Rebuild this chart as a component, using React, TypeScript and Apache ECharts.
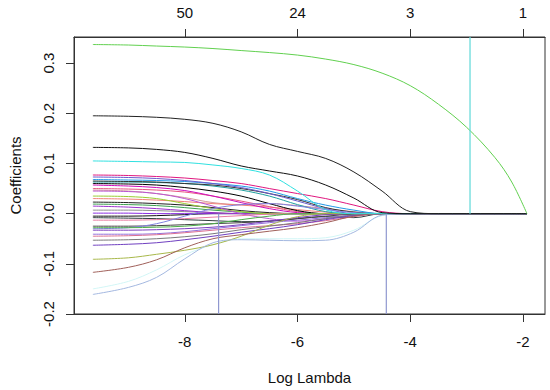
import React, { useEffect, useRef } from "react";
import * as echarts from "echarts";

// Log(lambda) grid at which the coefficient paths were read
const LOG_LAMBDA = [-9.63, -9, -8.5, -8, -7.5, -7, -6.5, -6, -5.5, -5, -4.5, -4, -3.5, -3, -2.5, -2.2, -1.93];

// Bottom / top axis ticks
const X_TICKS = [-8, -6, -4, -2];
const TOP_LABELS = ["50", "24", "3", "1"];
const Y_TICKS = [-0.2, -0.1, 0, 0.1, 0.2, 0.3];

// Coefficient paths (one array per variable)
const pathGreen = [0.337, 0.336, 0.334, 0.332, 0.329, 0.325, 0.321, 0.316, 0.308, 0.297, 0.28, 0.255, 0.218, 0.172, 0.112, 0.063, 0];
const pathBlack1 = [0.195, 0.194, 0.192, 0.188, 0.18, 0.163, 0.138, 0.124, 0.11, 0.083, 0.045, 0.004, 0, 0, 0, 0, 0];
const pathBlack2 = [0.132, 0.131, 0.128, 0.122, 0.11, 0.095, 0.085, 0.075, 0.057, 0.031, 0.002, 0, 0, 0, 0, 0, 0];
const pathCyan = [0.105, 0.104, 0.103, 0.102, 0.097, 0.09, 0.077, 0.045, 0.008, 0, 0, 0, 0, 0, 0, 0, 0];
const pathLightBlue = [-0.161, -0.147, -0.127, -0.09, -0.058, -0.052, -0.053, -0.054, -0.053, -0.037, -0.003, 0, 0, 0, 0, 0, 0];
const pathBrown = [-0.117, -0.107, -0.092, -0.068, -0.05, -0.042, -0.035, -0.028, -0.018, -0.005, 0, 0, 0, 0, 0, 0, 0];
const pathOlive = [-0.091, -0.088, -0.081, -0.073, -0.062, -0.045, -0.023, -0.006, 0, 0, 0, 0, 0, 0, 0, 0, 0];
const pathDeepPink = [0.077, 0.076, 0.074, 0.071, 0.066, 0.06, 0.05, 0.04, 0.03, 0.017, 0.004, 0, 0, 0, 0, 0, 0];
const pathSlateBlue = [0.073, 0.072, 0.07, 0.066, 0.06, 0.052, 0.04, 0.025, 0.01, 0, 0, 0, 0, 0, 0, 0, 0];
const pathBlue = [0.068, 0.067, 0.066, 0.064, 0.06, 0.055, 0.045, 0.03, 0.017, 0.007, 0, 0, 0, 0, 0, 0, 0];
const pathBlack3 = [0.065, 0.064, 0.063, 0.06, 0.057, 0.05, 0.04, 0.028, 0.012, 0.003, 0, 0, 0, 0, 0, 0, 0];
const pathTeal = [0.063, 0.063, 0.062, 0.06, 0.055, 0.047, 0.035, 0.018, 0.004, 0, 0, 0, 0, 0, 0, 0, 0];
const pathBlack4 = [0.06, 0.059, 0.057, 0.052, 0.045, 0.035, 0.02, 0.006, 0, 0, 0, 0, 0, 0, 0, 0, 0];
const pathMagenta = [0.057, 0.055, 0.052, 0.046, 0.035, 0.022, 0.01, 0.002, 0, 0, 0, 0, 0, 0, 0, 0, 0];
const pathPink = [0.05, 0.049, 0.047, 0.043, 0.035, 0.025, 0.014, 0.004, 0, 0, 0, 0, 0, 0, 0, 0, 0];
const pathRosy = [0.047, 0.045, 0.04, 0.032, 0.022, 0.018, 0.02, 0.016, 0.01, 0.004, 0, 0, 0, 0, 0, 0, 0];
const pathOrchid = [0.045, 0.044, 0.04, 0.03, 0.015, 0.0, -0.01, -0.015, -0.01, -0.003, 0, 0, 0, 0, 0, 0, 0];
const pathYellowGreen = [0.035, 0.034, 0.03, 0.02, 0.01, 0.004, 0, 0, 0, 0, 0, 0, 0, 0, 0, 0, 0];
const pathSalmon = [0.03, 0.029, 0.027, 0.024, 0.02, 0.017, 0.013, 0.008, 0.003, 0, 0, 0, 0, 0, 0, 0, 0];
const pathBlack5 = [0.023, 0.022, 0.02, 0.017, 0.012, 0.006, 0.002, 0, 0, 0, 0, 0, 0, 0, 0, 0, 0];
const pathGreen2 = [0.019, 0.018, 0.016, 0.012, 0.007, 0.003, 0, 0, 0, 0, 0, 0, 0, 0, 0, 0, 0];
const pathPurple1 = [0.015, 0.013, 0.01, 0.006, 0.002, 0, 0, 0, 0, 0, 0, 0, 0, 0, 0, 0, 0];
const pathGray1 = [0.007, 0.007, 0.006, 0.004, 0.002, 0, 0, 0, 0, 0, 0, 0, 0, 0, 0, 0, 0];
const pathPurple2 = [0.001, 0.001, 0, 0, 0, 0, 0, 0, 0, 0, 0, 0, 0, 0, 0, 0, 0];
const pathBlack6 = [-0.005, -0.005, -0.004, -0.002, 0, 0, 0, 0, 0, 0, 0, 0, 0, 0, 0, 0, 0];
const pathSlate = [-0.008, -0.009, -0.01, -0.012, -0.014, -0.016, -0.015, -0.01, -0.006, -0.008, 0, 0, 0, 0, 0, 0, 0];
const pathPink2 = [-0.013, -0.013, -0.012, -0.01, -0.007, -0.004, -0.001, 0, 0, 0, 0, 0, 0, 0, 0, 0, 0];
const pathDarkGray = [-0.025, -0.025, -0.024, -0.022, -0.02, -0.018, -0.015, -0.01, -0.005, -0.001, 0, 0, 0, 0, 0, 0, 0];
const pathMedPurple = [-0.03, -0.028, -0.02, -0.005, 0.01, 0.018, 0.02, 0.015, 0.008, 0.002, 0, 0, 0, 0, 0, 0, 0];
const pathGreen3 = [-0.028, -0.028, -0.027, -0.025, -0.02, -0.012, -0.005, 0, 0, 0, 0, 0, 0, 0, 0, 0, 0];
const pathPurple3 = [-0.033, -0.033, -0.032, -0.03, -0.027, -0.022, -0.015, -0.008, -0.002, 0, 0, 0, 0, 0, 0, 0, 0];
const pathViolet = [-0.041, -0.041, -0.04, -0.036, -0.03, -0.024, -0.018, -0.013, -0.008, -0.003, 0, 0, 0, 0, 0, 0, 0];
const pathPaleViolet = [-0.045, -0.044, -0.042, -0.038, -0.033, -0.028, -0.024, -0.02, -0.014, -0.006, 0, 0, 0, 0, 0, 0, 0];
const pathGray2 = [-0.053, -0.052, -0.05, -0.046, -0.04, -0.032, -0.025, -0.018, -0.01, -0.003, 0, 0, 0, 0, 0, 0, 0];
const pathPurple4 = [-0.063, -0.061, -0.058, -0.052, -0.045, -0.037, -0.03, -0.022, -0.012, -0.004, 0, 0, 0, 0, 0, 0, 0];
const pathLightCyan = [-0.15, -0.135, -0.112, -0.082, -0.062, -0.05, -0.05, -0.05, -0.048, -0.033, -0.004, 0, 0, 0, 0, 0, 0];

const PATHS: { values: number[]; color: string }[] = [
  { values: pathLightCyan, color: "#D2F6F6" },
  { values: pathSlate, color: "#2F3F3F" },
  { values: pathRosy, color: "#D49A9A" },
  { values: pathBlack6, color: "#111111" },
  { values: pathPurple2, color: "#8A2BE2" },
  { values: pathGray1, color: "#909090" },
  { values: pathPurple1, color: "#9932CC" },
  { values: pathGreen2, color: "#3CA050" },
  { values: pathBlack5, color: "#222222" },
  { values: pathSalmon, color: "#F08078" },
  { values: pathYellowGreen, color: "#9ACD32" },
  { values: pathOrchid, color: "#BA55D3" },
  { values: pathPink, color: "#E75480" },
  { values: pathMagenta, color: "#CD0BBC" },
  { values: pathBlack4, color: "#000000" },
  { values: pathTeal, color: "#20A0A0" },
  { values: pathBlack3, color: "#333333" },
  { values: pathBlue, color: "#2297E6" },
  { values: pathSlateBlue, color: "#6A5ACD" },
  { values: pathDeepPink, color: "#E0177F" },
  { values: pathPink2, color: "#E87AA0" },
  { values: pathDarkGray, color: "#444444" },
  { values: pathMedPurple, color: "#8080E0" },
  { values: pathGreen3, color: "#4DAF4A" },
  { values: pathPurple3, color: "#7B3FBF" },
  { values: pathViolet, color: "#9370DB" },
  { values: pathPaleViolet, color: "#DB7093" },
  { values: pathGray2, color: "#7A7A7A" },
  { values: pathPurple4, color: "#7040C0" },
  { values: pathOlive, color: "#A8B84A" },
  { values: pathBrown, color: "#A0605A" },
  { values: pathLightBlue, color: "#A4B8E0" },
  { values: pathCyan, color: "#30E0E0" },
  { values: pathBlack2, color: "#111111" },
  { values: pathBlack1, color: "#222222" },
  { values: pathGreen, color: "#61D04F" },
];

// Vertical reference lines: [log lambda, from, to]
const VLINES: { x: number; y0: number; y1: number; color: string }[] = [
  { x: -7.4, y0: -0.2, y1: 0, color: "#9098D0" },
  { x: -4.425, y0: -0.2, y1: 0, color: "#9098D0" },
  { x: -2.94, y0: 0, y1: 0.352, color: "#5ED8D8" },
];

const X_MIN = -9.965;
const X_MAX = -1.61;
const Y_MIN = -0.2;
const Y_MAX = 0.352;

const FONT = "'Liberation Sans', Arial, Helvetica, sans-serif";

export default function App() {
  const ref = useRef<HTMLDivElement>(null);
  useEffect(() => {
    if (!ref.current) return;
    const chart = echarts.init(ref.current, null, { renderer: "svg" });
    const lineSeries = PATHS.map((p) => ({
      type: "line",
      data: LOG_LAMBDA.map((x, i) => [x, p.values[i]]),
      showSymbol: false,
      smooth: 0.35,
      lineStyle: { color: p.color, width: 1 },
      silent: true,
    }));
    const vSeries = VLINES.map((v) => ({
      type: "line",
      data: [
        [v.x, v.y0],
        [v.x, v.y1],
      ],
      showSymbol: false,
      lineStyle: { color: v.color, width: 1.2 },
      silent: true,
    }));
    chart.setOption({
      animation: false,
      backgroundColor: "#ffffff",
      textStyle: { fontFamily: FONT },
      grid: {
        left: 73,
        right: 5,
        top: 37,
        bottom: 76,
        show: true,
        borderColor: "#333333",
        borderWidth: 1,
        backgroundColor: "transparent",
      },
      xAxis: [
        {
          type: "value",
          min: X_MIN,
          max: X_MAX,
          position: "bottom",
          name: "Log Lambda",
          nameLocation: "middle",
          nameGap: 56,
          nameTextStyle: { color: "#111", fontSize: 15, fontFamily: FONT },
          axisLine: { show: true, onZero: false, lineStyle: { color: "#333" } },
          axisTick: { show: true, inside: false, length: 8, customValues: X_TICKS, lineStyle: { color: "#333" } },
          axisLabel: {
            customValues: X_TICKS,
            margin: 20,
            color: "#111",
            fontSize: 15,
            fontFamily: FONT,
            formatter: (v: number) => String(v),
          },
          splitLine: { show: false },
        },
        {
          type: "value",
          min: X_MIN,
          max: X_MAX,
          position: "top",
          axisLine: { show: true, onZero: false, lineStyle: { color: "#333" } },
          axisTick: { show: true, inside: false, length: 8, customValues: X_TICKS, lineStyle: { color: "#333" } },
          axisLabel: {
            customValues: X_TICKS,
            margin: 17,
            color: "#111",
            fontSize: 15,
            fontFamily: FONT,
            formatter: (v: number) => {
              const i = X_TICKS.findIndex((t) => Math.abs(t - v) < 1e-6);
              return i >= 0 ? TOP_LABELS[i] : "";
            },
          },
          splitLine: { show: false },
        },
      ],
      yAxis: {
        type: "value",
        min: Y_MIN,
        max: Y_MAX,
        name: "Coefficients",
        nameLocation: "middle",
        nameGap: 51,
        nameTextStyle: { color: "#111", fontSize: 15, fontFamily: FONT },
        axisLine: { show: true, onZero: false, lineStyle: { color: "#333" } },
        axisTick: { show: true, inside: false, length: 8, customValues: Y_TICKS, lineStyle: { color: "#333" } },
        axisLabel: {
          customValues: Y_TICKS,
          rotate: 90,
          margin: 18,
          color: "#111",
          fontSize: 15,
          fontFamily: FONT,
          formatter: (v: number) => v.toFixed(1),
        },
        splitLine: { show: false },
      },
      series: [...lineSeries, ...vSeries],
    });
    return () => chart.dispose();
  }, []);
  return <div ref={ref} style={{ width: 550, height: 390, position: "absolute", left: 0, top: 0 }} />;
}
